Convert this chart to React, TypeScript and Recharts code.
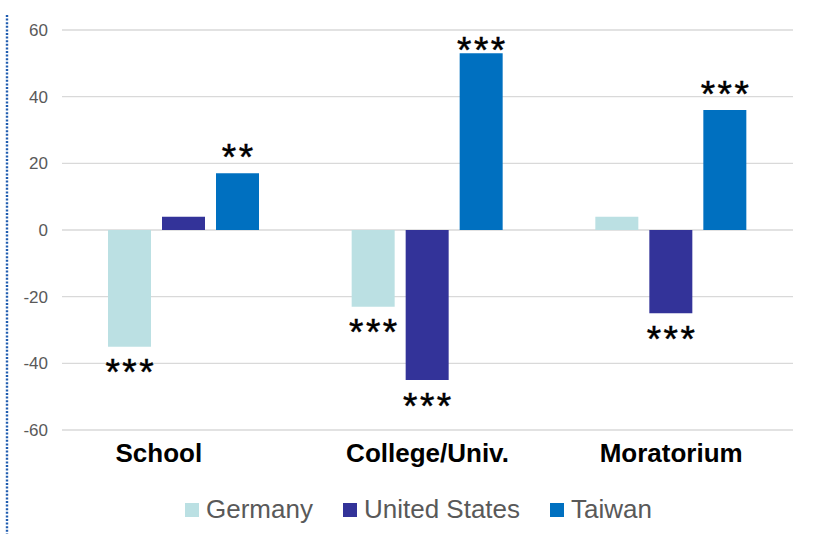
import { Bar, BarChart, CartesianGrid, LabelList, Legend, XAxis, YAxis } from "recharts";

const categories = ["School", "College/Univ.", "Moratorium"];
const germany = [-35, -23, 4];
const unitedStates = [4, -45, -25];
const taiwan = [17, 53, 36];
const germanyStars = ["***", "***", ""];
const unitedStatesStars = ["", "***", "***"];
const taiwanStars = ["**", "***", "***"];
const yTicks = [-60, -40, -20, 0, 20, 40, 60];

const series = [
  { key: "germany", name: "Germany", color: "#bbe0e3", stars: germanyStars },
  { key: "unitedStates", name: "United States", color: "#333399", stars: unitedStatesStars },
  { key: "taiwan", name: "Taiwan", color: "#0070c0", stars: taiwanStars },
];

const data = categories.map((category, i) => ({
  category,
  germany: germany[i],
  unitedStates: unitedStates[i],
  taiwan: taiwan[i],
}));

const FONT = "'Liberation Sans', Arial, sans-serif";
const STAR_SIZE = 37;
const STAR_SPACING = 2.5;
// asterisk glyph spans roughly 0.32em..0.72em above the baseline
const STAR_LOW = 0.32;
const STAR_HIGH = 0.72;

// significance markers sit above positive bars and below negative ones;
// the tallest bar pushes its marker down onto the bar top
const starLabel = (stars: string[]) => (props: any) => {
  const { x, y, width, height, index } = props;
  const text = stars[index];
  if (!text) return null;
  const top = Math.min(y, y + height);
  const bottom = Math.max(y, y + height);
  const value = props.value as number;
  const cx = x + width / 2 + STAR_SPACING / 2;
  const baseline =
    value >= 0
      ? Math.max(top - 15, 51) + STAR_LOW * STAR_SIZE
      : bottom + 12 + STAR_HIGH * STAR_SIZE;
  return (
    <text
      x={cx}
      y={baseline}
      textAnchor="middle"
      fontFamily={FONT}
      fontSize={STAR_SIZE}
      letterSpacing={STAR_SPACING}
      fill="#000"
      stroke="#000"
      strokeWidth={0.5}
    >
      {text}
    </text>
  );
};

const CategoryTick = (props: any) => {
  const { x, y, payload, index } = props;
  // the first label sits a little left of its group
  const shift = index === 0 ? -25 : 0;
  return (
    <text x={x + shift} y={y} dy={24} textAnchor="middle" fontFamily={FONT} fontSize={26} fontWeight="bold" fill="#000">
      {payload.value}
    </text>
  );
};

const LegendContent = () => (
  <div
    style={{
      display: "flex",
      justifyContent: "center",
      alignItems: "center",
      gap: 30,
      fontFamily: FONT,
      fontSize: 26,
      color: "#595959",
      paddingLeft: 44,
      paddingTop: 14,
    }}
  >
    {series.map((s) => (
      <div key={s.key} style={{ display: "flex", alignItems: "center", gap: 7 }}>
        <span style={{ display: "inline-block", width: 14, height: 14, background: s.color }} />
        <span>{s.name}</span>
      </div>
    ))}
  </div>
);

export default function App() {
  return (
    <div style={{ position: "absolute", left: 0, top: 0, width: 821, height: 534, background: "#fff" }}>
      <svg width={10} height={534} style={{ position: "absolute", left: 2, top: 0 }}>
        <line x1={5} y1={15} x2={5} y2={534} stroke="#1f5cb0" strokeWidth={2.4} strokeDasharray="2 1.6" />
      </svg>
      <BarChart
        width={821}
        height={534}
        data={data}
        margin={{ top: 30, right: 28, left: 0, bottom: 0 }}
        barSize={43}
        barGap={11}
      >
        <CartesianGrid vertical={false} stroke="#d9d9d9" strokeWidth={1.3} />
        <XAxis
          dataKey="category"
          axisLine={false}
          tickLine={false}
          height={50}
          interval={0}
          tick={<CategoryTick />}
        />
        <YAxis
          domain={[-60, 60]}
          ticks={yTicks}
          width={62}
          axisLine={false}
          tickLine={false}
          tickMargin={8}
          tick={{ fill: "#595959", fontSize: 17, fontFamily: FONT }}
        />
        <Legend verticalAlign="bottom" height={54} content={<LegendContent />} />
        {series.map((s) => (
          <Bar key={s.key} dataKey={s.key} name={s.name} fill={s.color} isAnimationActive={false}>
            <LabelList dataKey={s.key} content={starLabel(s.stars)} />
          </Bar>
        ))}
      </BarChart>
    </div>
  );
}
